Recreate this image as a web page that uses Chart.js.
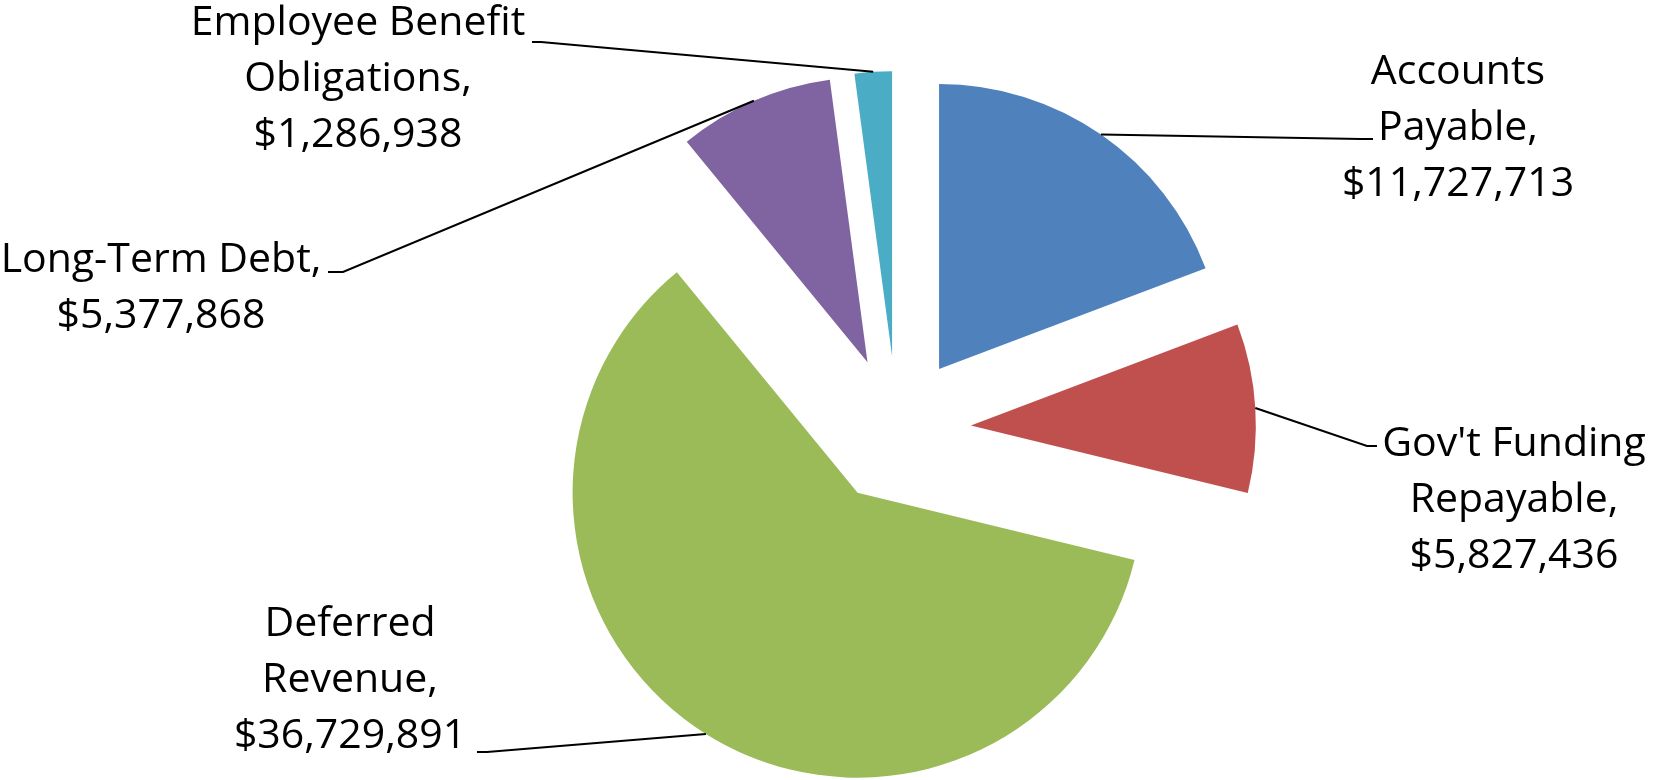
<!DOCTYPE html>
<html>
<head>
<meta charset="utf-8">
<script src="https://cdn.jsdelivr.net/npm/chart.js@4.4.0/dist/chart.umd.min.js"></script>
<style>
  html, body { margin: 0; padding: 0; background: #fff; }
  canvas { display: block; }
</style>
</head>
<body>
<canvas id="chart" width="1654" height="780"></canvas>
<script>
const categories = ["Accounts Payable", "Gov't Funding Repayable", "Deferred Revenue", "Long-Term Debt", "Employee Benefit Obligations"]
const amounts = [11727713, 5827436, 36729891, 5377868, 1286938]
// how each category name wraps in its label
const nameLines = [["Accounts", "Payable,"], ["Gov't Funding", "Repayable,"], ["Deferred", "Revenue,"], ["Long-Term Debt,"], ["Employee Benefit", "Obligations,"]]
const colors = ["#4F81BD", "#C0504D", "#9BBB59", "#8064A2", "#4BACC6"]

// label placement (canvas px): text centre x, first baseline, elbow of leader, end of leader
const labelLayout = [
  { x: 1458, y: 84, elbow: [1361, 139], end: [1373, 139] },
  { x: 1514, y: 456, elbow: [1367, 446], end: [1377, 446] },
  { x: 350, y: 636, elbow: [487, 752], end: [477, 752] },
  { x: 161, y: 272, elbow: [343, 272], end: [328, 272] },
  { x: 358, y: 35, elbow: [541, 42], end: [532, 42] },
]

const R = 285
const EXPLODE = 74
const FONT = "41px 'Open Sans'"
const LINE_H = 56

const fmt = (v) => "$" + v.toLocaleString("en-US")

// draw every slice pushed out the same distance along its mid angle
const explode = {
  id: "explode",
  beforeDatasetDraw(chart, args) {
    const ctx = chart.ctx
    args.meta.data.forEach((el) => {
      const mid = (el.startAngle + el.endAngle) / 2
      ctx.save()
      ctx.translate(Math.cos(mid) * EXPLODE, Math.sin(mid) * EXPLODE)
      el.draw(ctx)
      ctx.restore()
    })
    return false
  },
}

const leaderLabels = {
  id: "leaderLabels",
  afterDatasetsDraw(chart) {
    const ctx = chart.ctx
    const meta = chart.getDatasetMeta(0)
    ctx.save()
    meta.data.forEach((el, i) => {
      const lay = labelLayout[i]
      const mid = (el.startAngle + el.endAngle) / 2
      const sx = el.x + Math.cos(mid) * (EXPLODE + el.outerRadius)
      const sy = el.y + Math.sin(mid) * (EXPLODE + el.outerRadius)
      ctx.strokeStyle = "#000"
      ctx.lineWidth = 2
      ctx.beginPath()
      ctx.moveTo(sx, sy)
      ctx.lineTo(lay.elbow[0], lay.elbow[1])
      ctx.lineTo(lay.end[0], lay.end[1])
      ctx.stroke()

      const lines = nameLines[i].concat([fmt(amounts[i])])
      ctx.fillStyle = "#000"
      ctx.font = FONT
      ctx.textAlign = "center"
      ctx.textBaseline = "alphabetic"
      lines.forEach((s, k) => ctx.fillText(s, lay.x, lay.y + k * LINE_H))
    })
    ctx.restore()
  },
}

new Chart(document.getElementById("chart"), {
  type: "pie",
  data: {
    labels: categories,
    datasets: [{
      data: amounts,
      backgroundColor: colors,
      borderWidth: 0,
      hoverOffset: 0,
    }],
  },
  options: {
    responsive: false,
    animation: false,
    radius: R,
    layout: { padding: { left: 140, top: 80, right: 0, bottom: 0 } },
    plugins: { legend: { display: false }, tooltip: { enabled: false } },
    events: [],
  },
  plugins: [explode, leaderLabels],
})
</script>
</body>
</html>
